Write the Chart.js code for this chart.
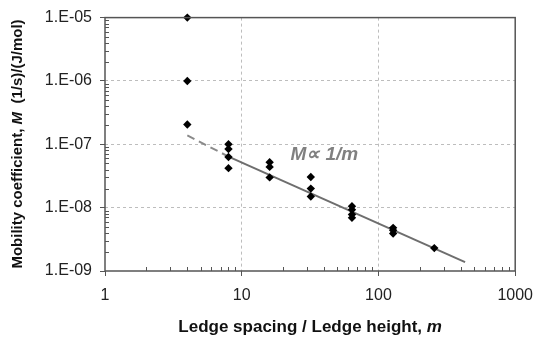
<!DOCTYPE html>
<html>
<head>
<meta charset="utf-8">
<script src="https://cdn.jsdelivr.net/npm/chart.js@4.4.1/dist/chart.umd.min.js"></script>
<style>
  html, body { margin: 0; padding: 0; background: #fff; }
  #wrap { width: 543px; height: 339px; position: relative; }
</style>
</head>
<body>
<div id="wrap"><canvas id="grafico"></canvas></div>
<script>
// dados (m = espaçamento / altura do degrau)
const spacing = [4, 4, 4, 8, 8, 8, 8, 16, 16, 16, 32, 32, 32, 64, 64, 64, 64, 128, 128, 128, 256];
const mobility = [1e-5, 1e-6, 2.05e-7, 1e-7, 8.4e-8, 6.3e-8, 4.2e-8, 5.2e-8, 4.4e-8, 3.0e-8,
                  3.05e-8, 2.0e-8, 1.5e-8, 1.05e-8, 9.3e-9, 7.8e-9, 6.9e-9, 4.8e-9, 4.4e-9, 3.9e-9, 2.3e-9];

// reta M ~ 1/m (trecho tracejado e trecho cheio)
const dashedX = [4, 8];
const dashedY = [1.38e-7, 6.4e-8];
const solidX = [8, 430];
const solidY = [6.4e-8, 1.38e-9];

// eixos
const xTickValues = [1, 10, 100, 1000];
const xTickLabels = ['1', '10', '100', '1000'];
const yTickValues = [1e-9, 1e-8, 1e-7, 1e-6, 1e-5];
const yTickLabels = ['1.E-09', '1.E-08', '1.E-07', '1.E-06', '1.E-05'];
const minorSteps = [2, 3, 4, 5, 6, 7, 8, 9];

// títulos dos eixos (partes em itálico marcadas)
const xTitleParts = [['Ledge spacing / Ledge height, ', false], ['m', true]];
const yTitleParts = [['Mobility coefficient, ', false], ['M', true], ['  (1/s)/(J/mol)', false]];

const FONTE = '"Liberation Sans", Arial, sans-serif';
const toXY = (xs, ys) => xs.map((x, i) => ({ x: x, y: ys[i] }));

// escreve texto com trechos em itálico, centrado em (0,0)
function textoMisto(ctx, partes, size) {
    const fontes = partes.map(p => (p[1] ? 'italic ' : '') + 'bold ' + size + 'px ' + FONTE);
    let total = 0;
    const larguras = partes.map((p, i) => {
        ctx.font = fontes[i];
        const w = ctx.measureText(p[0]).width;
        total += w;
        return w;
    });
    let x = -total / 2;
    partes.forEach((p, i) => {
        ctx.font = fontes[i];
        ctx.fillText(p[0], x, 0);
        x += larguras[i];
    });
}

// moldura, marcas secundárias, títulos e anotação
const extras = {
    id: 'extras',
    afterDraw(chart) {
        const ctx = chart.ctx;
        const a = chart.chartArea;
        const sx = chart.scales.x;
        const sy = chart.scales.y;
        ctx.save();
        ctx.strokeStyle = '#555';
        ctx.lineWidth = 1.5;
        ctx.strokeRect(a.left, a.top, a.right - a.left, a.bottom - a.top);

        ctx.lineWidth = 1;
        ctx.beginPath();
        for (let d = 0; d < xTickValues.length - 1; d++) {
            minorSteps.forEach(k => {
                const px = Math.round(sx.getPixelForValue(k * xTickValues[d])) + 0.5;
                ctx.moveTo(px, a.bottom);
                ctx.lineTo(px, a.bottom - 4);
            });
        }
        for (let d = 0; d < yTickValues.length - 1; d++) {
            minorSteps.forEach(k => {
                const py = Math.round(sy.getPixelForValue(k * yTickValues[d])) + 0.5;
                ctx.moveTo(a.left, py);
                ctx.lineTo(a.left + 4, py);
            });
        }
        ctx.stroke();

        // títulos
        ctx.fillStyle = '#111';
        ctx.textBaseline = 'middle';
        ctx.textAlign = 'left';
        ctx.save();
        ctx.translate((a.left + a.right) / 2, 327);
        textoMisto(ctx, xTitleParts, 17);
        ctx.restore();
        ctx.save();
        ctx.translate(18, 144);
        ctx.rotate(-Math.PI / 2);
        textoMisto(ctx, yTitleParts, 15);
        ctx.restore();

        // anotação
        ctx.fillStyle = '#808080';
        ctx.font = 'italic bold 19px ' + FONTE;
        ctx.fillText('M\u221D 1/m', sx.getPixelForValue(22.7), sy.getPixelForValue(6.8e-8));
        ctx.restore();
    }
};

const ctx = document.getElementById('grafico').getContext('2d');

new Chart(ctx, {
    type: 'scatter',
    data: {
        datasets: [
            {
                label: 'dados',
                data: toXY(spacing, mobility),
                pointStyle: 'rectRot',
                pointRadius: 4.2,
                backgroundColor: '#000',
                borderColor: '#000',
                borderWidth: 0,
                clip: false,
                order: 0
            },
            {
                label: 'tracejado',
                type: 'line',
                data: toXY(dashedX, dashedY),
                borderColor: '#8a8a8a',
                borderWidth: 2,
                borderDash: [8, 5],
                pointRadius: 0,
                fill: false,
                order: 1
            },
            {
                label: 'ajuste',
                type: 'line',
                data: toXY(solidX, solidY),
                borderColor: '#6e6e6e',
                borderWidth: 2,
                pointRadius: 0,
                fill: false,
                order: 1
            }
        ]
    },
    options: {
        responsive: true,
        maintainAspectRatio: false,
        animation: false,
        layout: { padding: { top: 16, right: 21, left: 0, bottom: 0 } },
        plugins: {
            legend: { display: false },
            tooltip: { enabled: false }
        },
        scales: {
            x: {
                type: 'logarithmic',
                min: 1,
                max: 1000,
                afterBuildTicks: (scale) => { scale.ticks = xTickValues.map(v => ({ value: v })); },
                afterFit: (scale) => { scale.height = 68; },
                ticks: {
                    color: '#222',
                    font: { size: 16, family: FONTE },
                    padding: 10,
                    maxRotation: 0,
                    callback: (value, index) => xTickLabels[index]
                },
                grid: {
                    color: (c) => (c.index === 0 || c.index === xTickValues.length - 1) ? 'rgba(0,0,0,0)' : '#bdbdbd',
                    tickColor: '#555',
                    tickLength: 5,
                    lineWidth: 1
                },
                border: { display: false, dash: [3, 3] },
                title: { display: false }
            },
            y: {
                type: 'logarithmic',
                min: 1e-9,
                max: 1e-5,
                afterBuildTicks: (scale) => { scale.ticks = yTickValues.map(v => ({ value: v })); },
                afterFit: (scale) => { scale.width = 105; },
                ticks: {
                    color: '#222',
                    font: { size: 16, family: FONTE },
                    padding: 8,
                    callback: (value, index) => yTickLabels[index]
                },
                grid: {
                    color: (c) => (c.index === 0 || c.index === yTickValues.length - 1) ? 'rgba(0,0,0,0)' : '#bdbdbd',
                    tickColor: '#555',
                    tickLength: 5,
                    lineWidth: 1
                },
                border: { display: false, dash: [3, 3] },
                title: { display: false }
            }
        }
    },
    plugins: [extras]
});
</script>
</body>
</html>
